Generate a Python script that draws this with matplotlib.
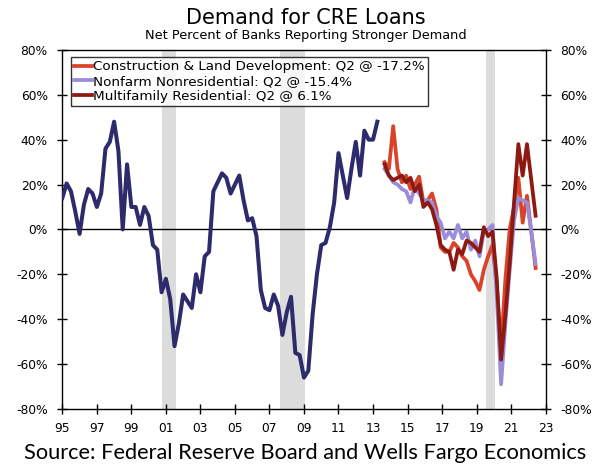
import matplotlib
matplotlib.use('Agg')
import matplotlib.pyplot as plt
import numpy as np

# Net percent of banks reporting stronger demand, quarterly
cre_start = 1995.0
cre_total = [14, 20.5, 17, 8, -2, 11, 18, 16, 10, 16, 36, 39, 48, 35, 0, 29,
             10, 10, 2, 10, 6, -7, -9, -28, -22, -31, -52, -42, -29, -32, -35, -20,
             -28, -12, -10, 17, 21, 25, 23, 16, 20, 24, 13, 4, 5, -3, -27, -35,
             -36, -29, -34, -47, -37, -30, -55, -56, -66, -63, -38, -20, -7, -6, 1, 12,
             34, 24, 14, 27, 39, 24, 44, 40, 40, 48]

new_start = 2013.67
construction = [30, 27, 46, 27, 21, 24, 18, 20, 23.5, 12, 13, 16, 9, -8, -10, -10,
                -6, -8, -12, -14, -20, -23, -27, -18, -12, -7, -25, -53, -22, 0, 10, 23,
                3, 15, -1, -17.2]
nonfarm = [27, 24, 21, 20, 18, 17, 12, 19, 16, 13, 13, 12, 6, 3, -4, -1,
           -4, 2, -4, -1, -9, -5, -12, -1, 0, 2, -30, -69, -42, -18, 4, 14,
           13, 12, -1, -15.4]
multifamily = [29, 24, 22, 23, 24, 21, 23, 17, 20, 10, 12, 9, 2, -7, -9, -10,
               -18, -9, -11, -5, -6, -8, -10, 1, -3, -1, -22, -58, -38, -15, 12, 38,
               24, 38, 22, 6.1]

recessions = [(2000.79, 2001.6), (2007.62, 2009.07), (2019.57, 2020.04)]

labels = ['Construction & Land Development: Q2 @ -17.2%',
          'Nonfarm Nonresidential: Q2 @ -15.4%',
          'Multifamily Residential: Q2 @ 6.1%']
year_ticks = list(range(1995, 2024, 2))
pct_ticks = list(range(-80, 81, 20))

x_old = cre_start + 0.25 * np.arange(len(cre_total))
x_new = new_start + 0.25 * np.arange(len(construction))

fig = plt.figure(figsize=(6.11, 4.75), dpi=100)
ax = fig.add_axes([0.102, 0.139, 0.791, 0.756])

for r0, r1 in recessions:
    ax.axvspan(r0, r1, color='#DCDCDC', lw=0, zorder=0)
ax.axhline(0, color='black', lw=1, zorder=1)

ax.plot(x_old, cre_total, color='#2D2B6B', lw=2.9, zorder=3)
ax.plot(x_new, construction, color='#D8432A', lw=2.7, zorder=3, label=labels[0])
ax.plot(x_new, nonfarm, color='#9A8CD8', lw=2.7, zorder=3, label=labels[1])
ax.plot(x_new, multifamily, color='#8C1A12', lw=2.7, zorder=3, label=labels[2])

ax.set_xlim(1995, 2023)
ax.set_ylim(-80, 80)
ax.set_xticks(year_ticks)
ax.set_xticklabels(['%02d' % (y % 100) for y in year_ticks])
ax.set_yticks(pct_ticks)
ax.set_yticklabels(['%d%%' % p for p in pct_ticks])
ax.tick_params(direction='inout', length=7, width=1, labelsize=8.8,
               colors='black', right=True, labelright=True)
ax.tick_params(axis='y', pad=7)
ax.tick_params(axis='x', pad=6)
for sp in ax.spines.values():
    sp.set_linewidth(1)

leg = ax.legend(loc='upper left', bbox_to_anchor=(0.018, 0.98), borderaxespad=0,
                fancybox=False, edgecolor='black', fontsize=9.7, handlelength=1.3,
                handletextpad=0.1, labelspacing=0.12, borderpad=0.25)
leg.get_frame().set_linewidth(1)

fig.text(0.5, 0.963, 'Demand for CRE Loans', ha='center', va='center', fontsize=15)
fig.text(0.5, 0.925, 'Net Percent of Banks Reporting Stronger Demand', ha='center',
         va='center', fontsize=9.3)
fig.text(0.5, 0.047, 'Source: Federal Reserve Board and Wells Fargo Economics',
         ha='center', va='center', fontsize=15.7, family='Lato')

fig.savefig('out.png', dpi=100)
